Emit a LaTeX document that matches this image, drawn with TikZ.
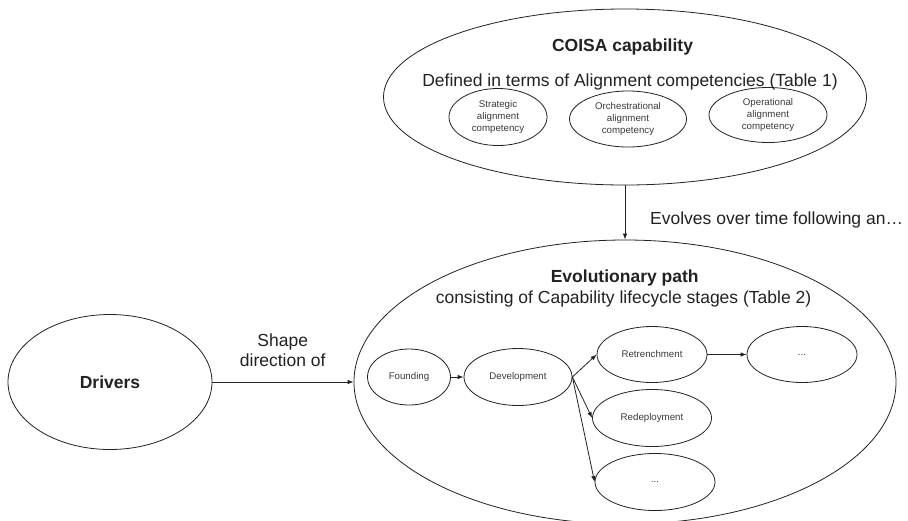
\documentclass[tikz,border=0pt]{standalone}
\usepackage{fontspec}
\setmainfont{Liberation Sans}
\usetikzlibrary{shapes.geometric,arrows.meta}
\definecolor{ink}{HTML}{222222}
\definecolor{soft}{HTML}{3A3A3A}
\begin{document}
\begin{tikzpicture}[x=1pt,y=-1pt,
  outline/.style={ellipse, draw=ink, line width=0.8pt, inner sep=0pt},
  bigtext/.style={font=\fontsize{17.5}{20}\selectfont, text=ink, inner sep=0pt},
  boldtext/.style={font=\fontsize{17.5}{20}\selectfont\bfseries, text=ink, inner sep=0pt},
  smalloval/.style={outline, font=\fontsize{9.7}{11.6}\selectfont, text=soft, align=center},
  conn/.style={draw=ink, line width=0.8pt, -{Latex[length=6pt,width=4.5pt]}}
]
\path[use as bounding box, fill=white] (0,0) rectangle (908,520);

% outer ellipses
\node[outline, minimum width=483pt, minimum height=176pt] (coisa) at (625,97) {};
\node[outline, minimum width=542pt, minimum height=284pt] (path) at (625,382) {};
\node[outline, boldtext, minimum width=204pt, minimum height=135pt] (drivers) at (110,382) {Drivers};

% headings
\node[boldtext, anchor=base] (coisatitle) at (622.5,51.7) {COISA capability};
\node[bigtext, anchor=base] (coisasub) at (630,86.7) {Defined in terms of Alignment competencies (Table 1)};
\node[boldtext, anchor=base] (pathtitle) at (624.7,282) {Evolutionary path};
\node[bigtext, anchor=base] (pathsub) at (623.5,303) {consisting of Capability lifecycle stages (Table 2)};

% competencies
\node[smalloval, minimum width=98pt, minimum height=57pt] (strat) at (498,117) {Strategic\\alignment\\competency};
\node[smalloval, minimum width=117pt, minimum height=56pt] (orch) at (628,119) {Orchestrational\\alignment\\competency};
\node[smalloval, minimum width=118pt, minimum height=55pt] (oper) at (768,115) {Operational\\alignment\\competency};

% lifecycle stages
\node[smalloval, minimum width=83pt, minimum height=56pt] (found) at (409,377) {Founding};
\node[smalloval, minimum width=108pt, minimum height=57pt] (dev) at (518,377) {Development};
\node[smalloval, minimum width=110pt, minimum height=56pt] (retr) at (652,354.5) {Retrenchment};
\node[smalloval, minimum width=119pt, minimum height=57pt] (redep) at (652,418) {Redeployment};
\node[smalloval, minimum width=110pt, minimum height=56pt] (more) at (802,354.5) {...};
\node[smalloval, minimum width=120pt, minimum height=57pt] (other) at (655,482) {...};

% labels on connectors
\node[bigtext, align=center] (shapelabel) at (282.7,350.4) {Shape\\direction of};
\node[bigtext, anchor=base west] (evolves) at (650,224) {Evolves over time following an…};

% connectors
\draw[conn] (coisa.south) -- (path.north);
\draw[conn] (drivers.east) -- (path.west);
\draw[conn] (found.east) -- (dev.west);
\draw[conn] (dev.east) -- (retr.west);
\draw[conn] (dev.east) -- (redep.west);
\draw[conn] (dev.east) -- (other.west);
\draw[conn] (retr.east) -- (more.west);
\end{tikzpicture}
\end{document}
